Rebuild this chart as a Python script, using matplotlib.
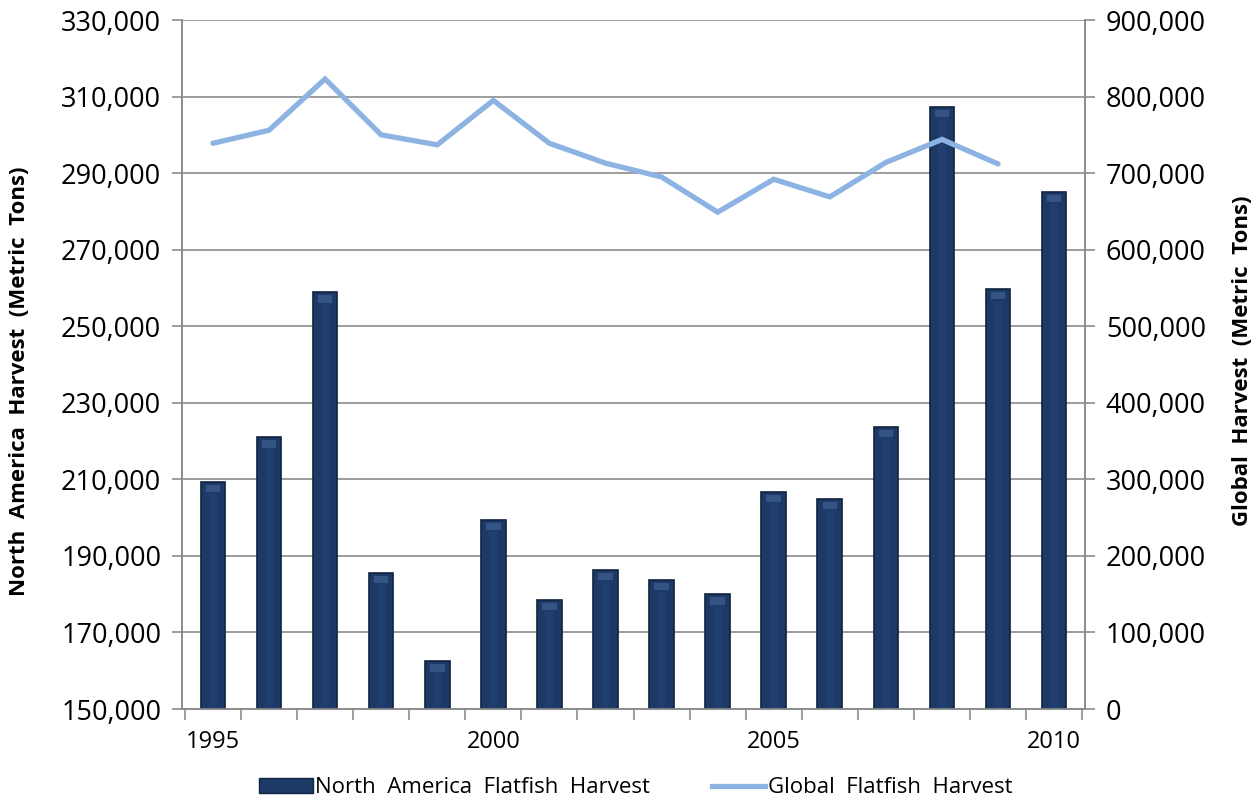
import numpy as np
import matplotlib
matplotlib.use("Agg")
import matplotlib.pyplot as plt
from matplotlib.ticker import FuncFormatter, FixedLocator
from matplotlib.lines import Line2D
from matplotlib.patches import Patch

plt.rcParams["font.family"] = ["Open Sans", "DejaVu Sans"]

# ── Data ──────────────────────────────────────────────────────────────────────
years = [1995, 1996, 1997, 1998, 1999, 2000, 2001, 2002,
         2003, 2004, 2005, 2006, 2007, 2008, 2009, 2010]
north_america = [209300, 221000, 258900, 185500, 162500, 199400, 178500, 186300,
                 183700, 180000, 206700, 204900, 223700, 307300, 259700, 285100]
global_harvest = [739000, 756000, 823000, 750000, 737000, 795000, 739000, 713000,
                  695000, 649000, 692000, 669000, 714000, 744000, 712000, None]

BAR_COLOR = "#1d3a66"
BAR_EDGE = "#10233f"
LINE_COLOR = "#8db3e2"
GRID_COLOR = "#8c8c8c"

fig = plt.figure(figsize=(12.59, 8.07), dpi=100)
ax = fig.add_axes([0.1446, 0.1214, 0.7172, 0.8538])
ax2 = ax.twinx()

x = np.arange(len(years))

# bars, with a softer cap and a faint centre sheen
ax.bar(x, north_america, width=0.44, bottom=0, color=BAR_COLOR,
       edgecolor=BAR_EDGE, linewidth=1.2, zorder=3)
for xi, v in zip(x, north_america):
    ax.bar(xi, 2000, width=0.26, bottom=v - 2700, color="#4a6fa3",
           linewidth=0, zorder=4, alpha=0.5)
    ax.bar(xi, v - 150000 - 3000, width=0.14, bottom=150000, color="#24457a",
           linewidth=0, zorder=4, alpha=0.5)

gx = [xi for xi, g in zip(x, global_harvest) if g is not None]
gy = [g for g in global_harvest if g is not None]
ax2.plot(gx, gy, color=LINE_COLOR, linewidth=3.8, solid_capstyle="round",
         solid_joinstyle="miter", zorder=5)

# ── Axes ──────────────────────────────────────────────────────────────────────
ax.set_ylim(150000, 330000)
ax.set_yticks(np.arange(150000, 330001, 20000))
ax2.set_ylim(0, 900000)
ax2.set_yticks(np.arange(0, 900001, 100000))
ax.set_xlim(-0.55, len(years) - 0.45)

fmt = FuncFormatter(lambda v, p: f"{int(v):,}")
ax.yaxis.set_major_formatter(fmt)
ax2.yaxis.set_major_formatter(fmt)

ax.set_xticks([0, 5, 10, 15])
ax.set_xticklabels([str(years[i]) for i in [0, 5, 10, 15]])
ax.xaxis.set_minor_locator(FixedLocator(np.arange(-0.5, len(years), 1.0)))
ax.tick_params(axis="x", which="major", length=0, pad=15, labelsize=17)
ax.tick_params(axis="x", which="minor", length=8, width=1.2, color=GRID_COLOR)
ax.tick_params(axis="y", length=7, width=1.2, color=GRID_COLOR, labelsize=19.5, pad=8)
ax2.tick_params(axis="y", length=7, width=1.2, color=GRID_COLOR, labelsize=19.5, pad=8)

ax.grid(axis="y", color=GRID_COLOR, linewidth=1.2, zorder=0)
ax.set_axisbelow(True)
for a in (ax, ax2):
    a.spines["top"].set_visible(False)
    for s in ("left", "right", "bottom"):
        a.spines[s].set_color(GRID_COLOR)
        a.spines[s].set_linewidth(1.2)

ax.set_ylabel("North  America  Harvest  (Metric  Tons)", fontsize=16,
              fontweight="bold")
ax.yaxis.set_label_coords(-0.168, 0.475)
ax2.set_ylabel("Global  Harvest  (Metric  Tons)", fontsize=16, fontweight="bold",
               rotation=90)
ax2.yaxis.set_label_coords(1.163, 0.505)

# ── Legend ────────────────────────────────────────────────────────────────────
handles = [
    Patch(facecolor=BAR_COLOR, edgecolor=BAR_EDGE, label="North  America  Flatfish  Harvest"),
    Line2D([0], [0], color=LINE_COLOR, linewidth=3.8, label="Global  Flatfish  Harvest"),
]
fig.legend(handles=handles, loc="lower center", bbox_to_anchor=(0.505, -0.014),
           ncol=2, frameon=False, fontsize=16, handlelength=2.4,
           handletextpad=0.1, columnspacing=2.8)

fig.savefig("out.png", dpi=100)
